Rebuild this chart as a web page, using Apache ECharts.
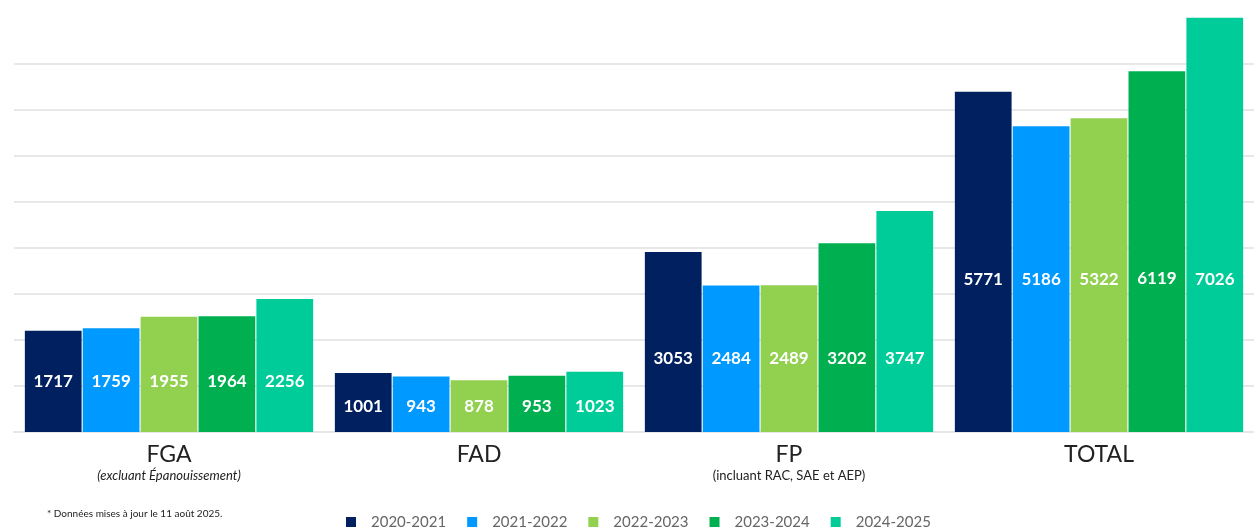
<!DOCTYPE html>
<html>
<head>
<meta charset="utf-8">
<script src="https://cdn.jsdelivr.net/npm/echarts@6/dist/echarts.min.js"></script>
<style>
  html, body { margin: 0; padding: 0; background: #fff; }
  #main { width: 1254px; height: 527px; }
</style>
</head>
<body>
<div id="main"></div>
<script>
// catégories + sous-titres
var categories = ['FGA', 'FAD', 'FP', 'TOTAL'];
var subtitles = ['(excluant Épanouissement)', '', '(incluant RAC, SAE et AEP)', ''];
var years = ['2020-2021', '2021-2022', '2022-2023', '2023-2024', '2024-2025'];

// valeurs par année (FGA, FAD, FP, TOTAL)
var v2020 = [1717, 1001, 3053, 5771];
var v2021 = [1759, 943, 2484, 5186];
var v2022 = [1955, 878, 2489, 5322];
var v2023 = [1964, 953, 3202, 6119];
var v2024 = [2256, 1023, 3747, 7026];

var colors = ['#002060', '#0099FF', '#92D050', '#00B050', '#00CC99'];
var allValues = [v2020, v2021, v2022, v2023, v2024];

// plus petite valeur de chaque groupe -> étiquettes alignées au milieu de la plus petite barre
var groupMin = categories.map(function (c, i) {
  return Math.min.apply(null, allValues.map(function (a) { return a[i]; }));
});

var series = years.map(function (y, k) {
  return {
    name: y,
    type: 'bar',
    clip: false,
    barGap: '2%',
    barCategoryGap: '7%',
    itemStyle: { color: colors[k] },
    data: allValues[k].map(function (v, i) {
      var pct = (1 - (groupMin[i] / 2) / v) * 100;
      return {
        value: v,
        label: { position: ['50%', pct.toFixed(1) + '%'] }
      };
    }),
    label: {
      show: true,
      align: 'center',
      verticalAlign: 'middle',
      color: '#fff',
      fontFamily: 'Lato',
      fontWeight: 'bold',
      fontSize: 17
    }
  };
});

var myChart = echarts.init(document.getElementById('main'));
myChart.setOption({
  animation: false,
  title: {
    text: '* Données mises à jour le 11 août 2025.',
    left: 42,
    top: 504,
    textStyle: { fontFamily: 'Lato', fontSize: 10, fontWeight: 'normal', color: '#222' }
  },
  legend: {
    top: 510,
    left: 341,
    icon: 'rect',
    itemWidth: 10,
    itemHeight: 11,
    itemGap: 21,
    textStyle: { fontFamily: 'Lato', fontSize: 15, color: '#666', padding: [0, 0, 0, 10] },
    data: years
  },
  grid: {
    left: 14,
    right: 0,
    top: 64,
    bottom: 95
  },
  xAxis: {
    type: 'category',
    data: categories,
    axisLine: { show: true, lineStyle: { color: '#e6e6e6', width: 2 } },
    axisTick: { show: false },
    axisLabel: {
      margin: 10,
      interval: 0,
      formatter: function (val, i) {
        if (i === 0) return '{n|' + val + '}\n{it|' + subtitles[i] + '}';
        if (subtitles[i]) return '{n|' + val + '}\n{s|' + subtitles[i] + '}';
        return '{n|' + val + '}';
      },
      rich: {
        n: { fontFamily: 'Lato', fontSize: 23, color: '#222', lineHeight: 26 },
        it: { fontFamily: 'Lato', fontSize: 13, fontStyle: 'italic', color: '#222', lineHeight: 16 },
        s: { fontFamily: 'Lato', fontSize: 13, color: '#222', lineHeight: 16 }
      }
    }
  },
  yAxis: {
    type: 'value',
    min: 0,
    max: 6240,
    interval: 780,
    axisLabel: { show: false },
    axisLine: { show: false },
    axisTick: { show: false },
    splitLine: { lineStyle: { color: '#e8e8e8', width: 2 } }
  },
  series: series
});
</script>
</body>
</html>
